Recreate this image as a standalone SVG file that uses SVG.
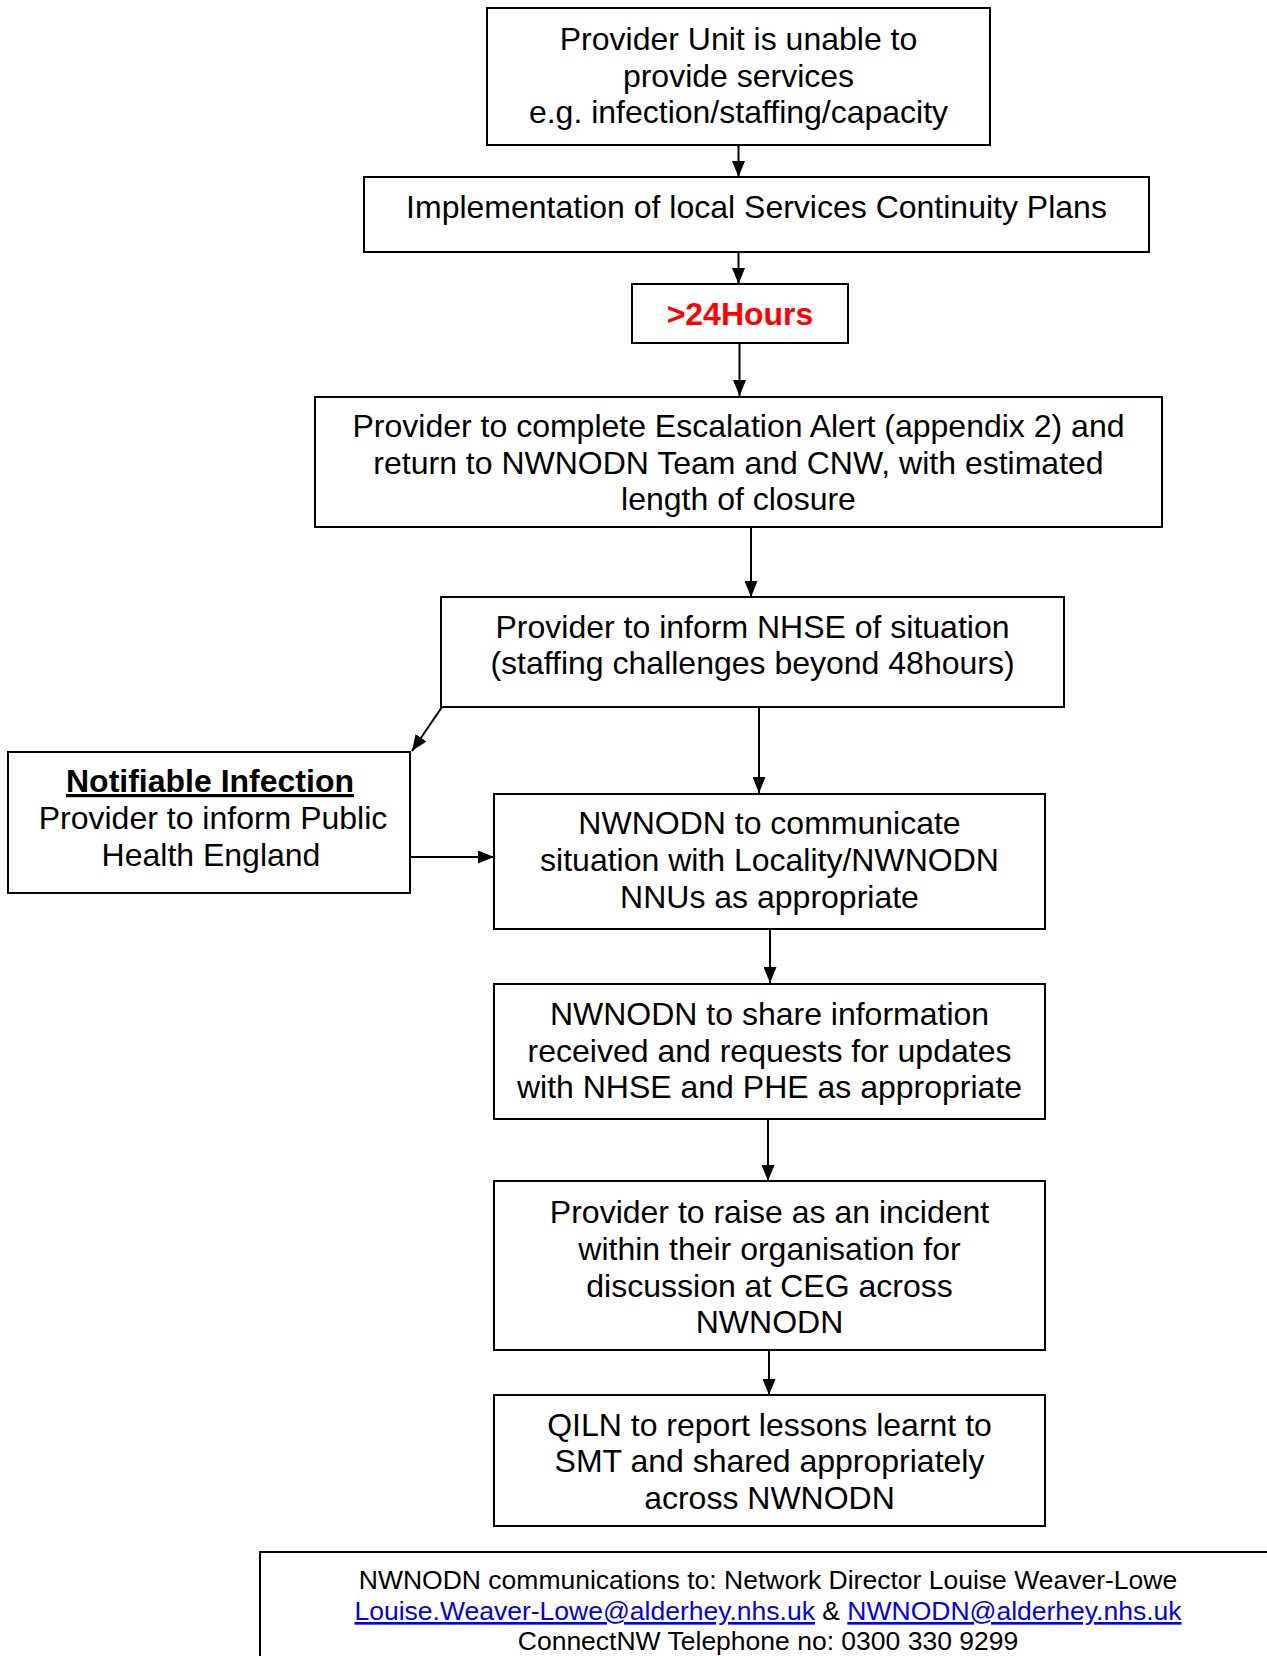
<svg xmlns="http://www.w3.org/2000/svg" width="1267" height="1656" viewBox="0 0 1267 1656">
<style>
.box{fill:#fff;stroke:#000;stroke-width:2}
.t{font-family:"Liberation Sans",Arial,sans-serif;font-size:32px;fill:#000;text-anchor:middle}
.f{font-family:"Liberation Sans",Arial,sans-serif;font-size:26.5px;fill:#000;text-anchor:middle}
.lnk{fill:#0000ee;text-decoration:underline}
.c{stroke:#000;stroke-width:2;fill:none;marker-end:url(#ah)}
</style>
<defs>
<marker id="ah" markerWidth="16" markerHeight="13" refX="16" refY="6.5" orient="auto" markerUnits="userSpaceOnUse"><path d="M0,0 L16,6.5 L0,13 z" fill="#000"/></marker>
</defs>
<rect width="1267" height="1656" fill="#fff"/>
<g id="connectors">
<line class="c" x1="738.5" y1="145" x2="738.5" y2="177"/>
<line class="c" x1="738.5" y1="252" x2="738.5" y2="284"/>
<line class="c" x1="739.5" y1="343" x2="739.5" y2="396"/>
<line class="c" x1="751" y1="527" x2="751" y2="597"/>
<line class="c" x1="442" y1="707" x2="412" y2="751"/>
<line class="c" x1="759" y1="707" x2="759" y2="793"/>
<line class="c" x1="410" y1="857" x2="494" y2="857"/>
<line class="c" x1="770" y1="929" x2="770" y2="983"/>
<line class="c" x1="768" y1="1120" x2="768" y2="1181"/>
<line class="c" x1="769" y1="1350" x2="769" y2="1395"/>
</g>
<g id="n1">
<rect class="box" x="487" y="8" width="503" height="137"/>
<text class="t" x="738.5" y="50">Provider Unit is unable to</text>
<text class="t" x="738.5" y="87">provide services</text>
<text class="t" x="738.5" y="123">e.g. infection/staffing/capacity</text>
</g>
<g id="n2">
<rect class="box" x="364" y="177" width="785" height="75"/>
<text class="t" x="756.5" y="218">Implementation of local Services Continuity Plans</text>
</g>
<g id="n3">
<rect class="box" x="632" y="284" width="216" height="59"/>
<text class="t" x="740" y="325" style="font-weight:bold;fill:#ff0000">&gt;24Hours</text>
</g>
<g id="n4">
<rect class="box" x="315" y="397" width="847" height="130"/>
<text class="t" x="738.5" y="437">Provider to complete Escalation Alert (appendix 2) and</text>
<text class="t" x="738.5" y="474">return to NWNODN Team and CNW, with estimated</text>
<text class="t" x="738.5" y="510">length of closure</text>
</g>
<g id="n5">
<rect class="box" x="441" y="597" width="623" height="110"/>
<text class="t" x="752.5" y="638">Provider to inform NHSE of situation</text>
<text class="t" x="752.5" y="674">(staffing challenges beyond 48hours)</text>
</g>
<g id="n6">
<rect class="box" x="8" y="752" width="402" height="141"/>
<text class="t" x="210" y="792" style="font-weight:bold;text-decoration:underline">Notifiable Infection</text>
<text class="t" x="213" y="829">Provider to inform Public</text>
<text class="t" x="211" y="866">Health England</text>
</g>
<g id="n7">
<rect class="box" x="494" y="794" width="551" height="135"/>
<text class="t" x="769.5" y="834">NWNODN to communicate</text>
<text class="t" x="769.5" y="871">situation with Locality/NWNODN</text>
<text class="t" x="769.5" y="908">NNUs as appropriate</text>
</g>
<g id="n8">
<rect class="box" x="494" y="984" width="551" height="135"/>
<text class="t" x="769.5" y="1025">NWNODN to share information</text>
<text class="t" x="769.5" y="1062">received and requests for updates</text>
<text class="t" x="769.5" y="1098">with NHSE and PHE as appropriate</text>
</g>
<g id="n9">
<rect class="box" x="494" y="1181" width="551" height="169"/>
<text class="t" x="769.5" y="1223">Provider to raise as an incident</text>
<text class="t" x="769.5" y="1260">within their organisation for</text>
<text class="t" x="769.5" y="1297">discussion at CEG across</text>
<text class="t" x="769.5" y="1333">NWNODN</text>
</g>
<g id="n10">
<rect class="box" x="494" y="1395" width="551" height="131"/>
<text class="t" x="769.5" y="1436">QILN to report lessons learnt to</text>
<text class="t" x="769.5" y="1472">SMT and shared appropriately</text>
<text class="t" x="769.5" y="1509">across NWNODN</text>
</g>
<g id="footer">
<rect class="box" x="260" y="1552" width="1030" height="130"/>
<text class="f" x="768" y="1589">NWNODN communications to: Network Director Louise Weaver-Lowe</text>
<text class="f" x="768" y="1620"><tspan class="lnk">Louise.Weaver-Lowe@alderhey.nhs.uk</tspan> &amp; <tspan class="lnk">NWNODN@alderhey.nhs.uk</tspan></text>
<text class="f" x="768" y="1650">ConnectNW Telephone no: 0300 330 9299</text>
</g>
</svg>
